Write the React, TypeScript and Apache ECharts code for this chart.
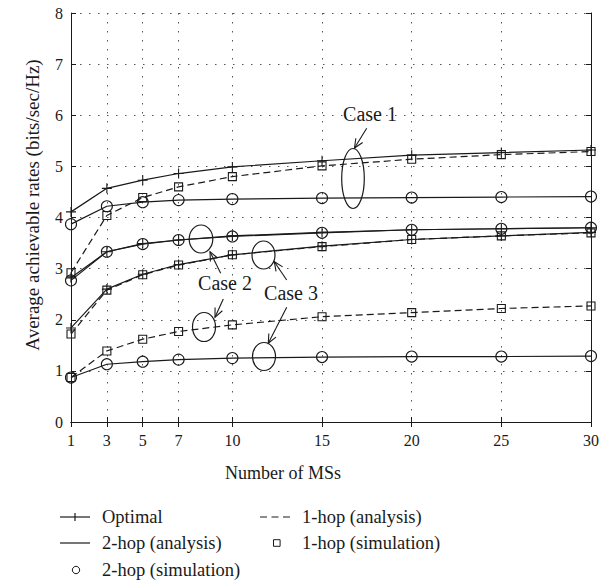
import React, { useEffect, useRef } from "react";
import * as echarts from "echarts";

// ---- data ----
const xValues = [1, 3, 5, 7, 10, 15, 20, 25, 30];
const xTickValues = [1, 3, 5, 7, 10, 15, 20, 25, 30];

// Case 1
const case1Optimal = [4.11, 4.57, 4.73, 4.86, 4.99, 5.11, 5.22, 5.27, 5.32];
const case1OneHop = [2.92, 4.04, 4.39, 4.6, 4.8, 5.01, 5.14, 5.23, 5.29];
const case1TwoHop = [3.87, 4.22, 4.3, 4.34, 4.36, 4.38, 4.39, 4.4, 4.41];
// Case 2
const case2Optimal = [2.82, 3.33, 3.49, 3.56, 3.64, 3.71, 3.76, 3.78, 3.8];
const case2TwoHop = [2.77, 3.33, 3.48, 3.56, 3.63, 3.7, 3.76, 3.78, 3.8];
const case2OneHop = [0.87, 1.39, 1.62, 1.77, 1.9, 2.06, 2.14, 2.22, 2.27];
// Case 3
const case3Optimal = [1.84, 2.6, 2.89, 3.08, 3.27, 3.44, 3.57, 3.64, 3.71];
const case3OneHop = [1.72, 2.58, 2.88, 3.07, 3.27, 3.43, 3.57, 3.64, 3.7];
const case3TwoHop = [0.87, 1.13, 1.18, 1.22, 1.25, 1.27, 1.28, 1.28, 1.29];

const legendLabels = [
  "Optimal",
  "1-hop (analysis)",
  "2-hop (analysis)",
  "1-hop (simulation)",
  "2-hop (simulation)",
];
const xTitle = "Number of MSs";
const yTitle = "Average achievable rates (bits/sec/Hz)";

// ---- styling ----
const FONT = '"Liberation Serif", "Times New Roman", serif';
const INK = "#1a1a1a";
const GRID_COLOR = "#555";
const PLUS = "path://M5,0L5,10M0,5L10,5";
const DASH = [7, 4];

type Kind = "optimal" | "two" | "one";

function pairs(ys: number[]) {
  return xValues.map((x, i) => [x, ys[i]]);
}

function makeSeries(name: string, ys: number[], kind: Kind) {
  const symbol = kind === "optimal" ? PLUS : kind === "two" ? "circle" : "rect";
  const symbolSize = kind === "optimal" ? 10 : kind === "two" ? 11 : 8;
  return {
    name,
    type: "line",
    data: pairs(ys),
    symbol,
    symbolSize,
    showAllSymbol: true,
    lineStyle: {
      color: INK,
      width: 1.2,
      type: kind === "one" ? DASH : "solid",
    },
    itemStyle: {
      color: "transparent",
      borderColor: INK,
      borderWidth: 1.1,
    },
    emphasis: { disabled: true },
    z: 3,
  };
}

function arrow(x1: number, y1: number, x2: number, y2: number) {
  const dx = x2 - x1;
  const dy = y2 - y1;
  const len = Math.sqrt(dx * dx + dy * dy);
  const ux = dx / len;
  const uy = dy / len;
  const L = 9;
  const W = 4;
  const bx = x2 - ux * L;
  const by = y2 - uy * L;
  return [
    {
      type: "line",
      shape: { x1, y1, x2, y2 },
      style: { stroke: INK, lineWidth: 1.1 },
      z: 10,
    },
    {
      type: "polyline",
      shape: {
        points: [
          [bx - uy * W, by + ux * W],
          [x2, y2],
          [bx + uy * W, by - ux * W],
        ],
      },
      style: { stroke: INK, lineWidth: 1.1, fill: "none" },
      z: 10,
    },
  ];
}

function ellipse(cx: number, cy: number, rx: number, ry: number) {
  return {
    type: "ellipse",
    shape: { cx, cy, rx, ry },
    style: { fill: "none", stroke: INK, lineWidth: 1.2 },
    z: 10,
  };
}

function label(text: string, x: number, y: number, size: number, align = "left", rotation = 0) {
  return {
    type: "text",
    x,
    y,
    rotation,
    style: {
      text,
      fill: INK,
      font: `${size}px ${FONT}`,
      align,
      verticalAlign: "middle",
    },
    z: 10,
  };
}

export default function App() {
  const ref = useRef<HTMLDivElement>(null);

  useEffect(() => {
    if (!ref.current) return;
    const chart = echarts.init(ref.current, undefined, { renderer: "svg" });

    const axisLine = { show: true, lineStyle: { color: INK, width: 1 } };
    const tickStyle = { color: INK, width: 1 };

    const legendRows = [517, 543, 570];
    const c1 = 60, c1t = 102, c2 = 260, c2t = 302;

    const graphics: any[] = [
      // titles
      label(xTitle, 283, 473, 18, "center"),
      label(yTitle, 32, 205, 19, "center", Math.PI / 2),
      // annotations
      label("Case 1", 370, 114, 20, "center"),
      label("Case 2", 225, 283, 20, "center"),
      label("Case 3", 291, 293, 20, "center"),
      ellipse(353, 178.5, 11.3, 30),
      ellipse(201, 239, 11.8, 14),
      ellipse(204, 327, 11.5, 14.5),
      ellipse(263.5, 255, 11.5, 14),
      ellipse(264, 356.5, 11.5, 14),
      ...arrow(366.7, 128.3, 354.5, 148),
      ...arrow(220.7, 273.3, 210, 251.7),
      ...arrow(223.3, 299, 215, 317.3),
      ...arrow(286.7, 280, 274.3, 261.7),
      ...arrow(286.7, 307.3, 268.3, 343.3),
      // legend
      {
        type: "line",
        shape: { x1: c1, y1: legendRows[0], x2: c1 + 30, y2: legendRows[0] },
        style: { stroke: INK, lineWidth: 1.2 },
      },
      {
        type: "line",
        shape: { x1: c1 + 15, y1: legendRows[0] - 4, x2: c1 + 15, y2: legendRows[0] + 4 },
        style: { stroke: INK, lineWidth: 1.2 },
      },
      label(legendLabels[0], c1t, legendRows[0], 18.5),
      {
        type: "line",
        shape: { x1: c2, y1: legendRows[0], x2: c2 + 30, y2: legendRows[0] },
        style: { stroke: INK, lineWidth: 1.2, lineDash: [7, 4.5] },
      },
      label(legendLabels[1], c2t, legendRows[0], 18.5),
      {
        type: "line",
        shape: { x1: c1, y1: legendRows[1], x2: c1 + 30, y2: legendRows[1] },
        style: { stroke: INK, lineWidth: 1.2 },
      },
      label(legendLabels[2], c1t, legendRows[1], 18.5),
      {
        type: "rect",
        shape: { x: c2 + 13.5, y: legendRows[1] - 3.3, width: 6.6, height: 6.6 },
        style: { stroke: INK, lineWidth: 1, fill: "none" },
      },
      label(legendLabels[3], c2t, legendRows[1], 18.5),
      {
        type: "circle",
        shape: { cx: c1 + 16, cy: legendRows[2], r: 3.7 },
        style: { stroke: INK, lineWidth: 1, fill: "none" },
      },
      label(legendLabels[4], c1t, legendRows[2], 18.5),
    ];

    const option: any = {
      animation: false,
      backgroundColor: "#fff",
      grid: { left: 71, right: 18, top: 13, bottom: 162, containLabel: false },
      xAxis: [
        {
          type: "value",
          position: "bottom",
          min: 1,
          max: 30,
          interval: 1,
          axisLine: axisLine,
          axisTick: { show: true, inside: true, length: 5, customValues: xTickValues, lineStyle: tickStyle },
          axisLabel: {
            customValues: xTickValues,
            fontFamily: FONT,
            fontSize: 16,
            color: INK,
            margin: 10,
          },
          splitLine: { show: true, lineStyle: { color: GRID_COLOR, width: 1, type: [1.5, 7.5] } },
        },
        {
          type: "value",
          position: "top",
          min: 1,
          max: 30,
          interval: 1,
          axisLine: axisLine,
          axisTick: { show: true, inside: true, length: 5, customValues: xTickValues, lineStyle: tickStyle },
          axisLabel: { show: false },
          splitLine: { show: false },
        },
      ],
      yAxis: [
        {
          type: "value",
          position: "left",
          min: 0,
          max: 8,
          interval: 1,
          axisLine: axisLine,
          axisTick: { show: true, inside: true, length: 5, lineStyle: tickStyle },
          axisLabel: { fontFamily: FONT, fontSize: 16, color: INK, margin: 8 },
          splitLine: { show: true, lineStyle: { color: GRID_COLOR, width: 1, type: [1.5, 7.5] } },
        },
        {
          type: "value",
          position: "right",
          min: 0,
          max: 8,
          interval: 1,
          axisLine: axisLine,
          axisTick: { show: true, inside: true, length: 5, lineStyle: tickStyle },
          axisLabel: { show: false },
          splitLine: { show: false },
        },
      ],
      series: [
        makeSeries("Case 1 Optimal", case1Optimal, "optimal"),
        makeSeries("Case 1 1-hop", case1OneHop, "one"),
        makeSeries("Case 1 2-hop", case1TwoHop, "two"),
        makeSeries("Case 2 Optimal", case2Optimal, "optimal"),
        makeSeries("Case 2 2-hop", case2TwoHop, "two"),
        makeSeries("Case 2 1-hop", case2OneHop, "one"),
        makeSeries("Case 3 Optimal", case3Optimal, "optimal"),
        makeSeries("Case 3 1-hop", case3OneHop, "one"),
        makeSeries("Case 3 2-hop", case3TwoHop, "two"),
      ],
      graphic: graphics,
    };

    chart.setOption(option);
    return () => chart.dispose();
  }, []);

  return (
    <div
      ref={ref}
      style={{ width: 609, height: 584, position: "absolute", left: 0, top: 0, background: "#fff" }}
    />
  );
}
